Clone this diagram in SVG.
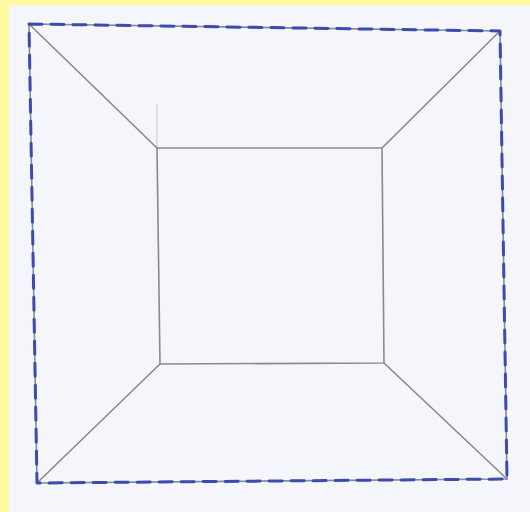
<svg xmlns="http://www.w3.org/2000/svg" width="530" height="512" viewBox="0 0 530 512">
<style>
.pencil{fill:none;stroke:#8a8a8e;stroke-width:1.6;stroke-linecap:round;stroke-linejoin:round}
.faint{fill:none;stroke:#c4c6cc;stroke-width:1}
.dash{fill:none;stroke:#3b4bb0;stroke-width:3;stroke-dasharray:13 9;stroke-linecap:round;stroke-linejoin:round}
</style>
<rect x="0" y="0" width="530" height="512" fill="#fdfb9c"/>
<rect x="9" y="5" width="521" height="507" fill="#f4f6fb"/>
<g id="outer-square">
<path class="pencil" d="M29 24 L500 31 L507 479 L37 483 Z"/>
</g>
<g id="inner-square">
<path class="pencil" d="M157 148 L382 148 L384 363 L160 364 Z"/>
<line class="faint" x1="157" y1="104" x2="157" y2="147"/>
</g>
<g id="connectors">
<line class="pencil" x1="29" y1="24" x2="157" y2="148"/>
<line class="pencil" x1="500" y1="31" x2="382" y2="148"/>
<line class="pencil" x1="507" y1="479" x2="384" y2="363"/>
<line class="pencil" x1="37" y1="483" x2="160" y2="364"/>
</g>
<g id="dashed-outline">
<path class="dash" d="M29 24 L500 31 L507 479 L37 483 Z"/>
</g>
</svg>
